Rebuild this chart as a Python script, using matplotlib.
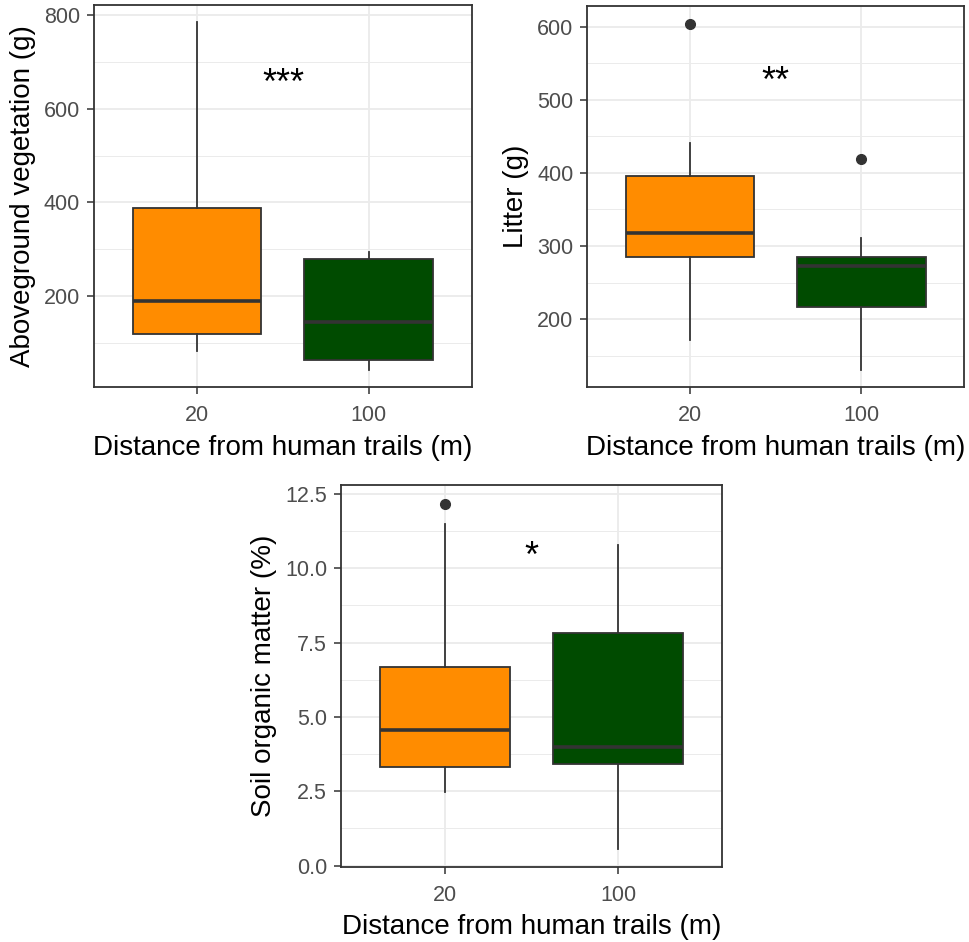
import numpy as np
import matplotlib.pyplot as plt
from matplotlib.ticker import MultipleLocator

plt.rcParams['font.family'] = ['Liberation Sans', 'DejaVu Sans']

groups = ['20', '100']
colors = ['#FF8C00', '#004B00']
xlabel = 'Distance from human trails (m)'

# box stats per group: whislo, q1, med, q3, whishi, outliers
veg_stats = [[83, 118, 189, 387, 785, []],
             [42, 63, 144, 278, 295, []]]
litter_stats = [[172, 285, 318, 396, 441, [604]],
                [131, 216, 273, 285, 311, [419]]]
som_stats = [[2.48, 3.32, 4.56, 6.68, 11.49, [12.17]],
             [0.56, 3.43, 3.98, 7.83, 10.79, []]]

panels = [
    dict(stats=veg_stats, ylabel='Aboveground vegetation (g)', sig='***', sig_y=677,
         major=200, minor=100, ylim=(5, 822), pos=[0.097, 0.589, 0.390, 0.4057]),
    dict(stats=litter_stats, ylabel='Litter (g)', sig='**', sig_y=539,
         major=100, minor=50, ylim=(107, 628), pos=[0.606, 0.589, 0.389, 0.4046]),
    dict(stats=som_stats, ylabel='Soil organic matter (%)', sig='*', sig_y=10.75,
         major=2.5, minor=1.25, ylim=(-0.05, 12.8), pos=[0.352, 0.0796, 0.393, 0.4054]),
]

fig = plt.figure(figsize=(9.69, 9.42), dpi=100)

for p in panels:
    ax = fig.add_axes(p['pos'])
    bstats = []
    for s in p['stats']:
        bstats.append(dict(whislo=s[0], q1=s[1], med=s[2], q3=s[3], whishi=s[4], fliers=s[5]))
    res = ax.bxp(bstats, positions=[1, 2], widths=0.75, patch_artist=True, showcaps=False,
                 boxprops=dict(edgecolor='#333333', linewidth=1.3),
                 medianprops=dict(color='#333333', linewidth=2.6, solid_capstyle='butt'),
                 whiskerprops=dict(color='#333333', linewidth=1.3),
                 flierprops=dict(marker='o', markerfacecolor='#333333', markeredgecolor='#333333',
                                 markersize=7))
    for patch, c in zip(res['boxes'], colors):
        patch.set_facecolor(c)
    for m in res['medians']:
        m.set_zorder(4)

    ax.set_xlim(0.4, 2.6)
    ax.set_ylim(*p['ylim'])
    ax.set_xticks([1, 2])
    ax.set_xticklabels(groups)
    ax.yaxis.set_major_locator(MultipleLocator(p['major']))
    ax.yaxis.set_minor_locator(MultipleLocator(p['minor']))
    ax.grid(True, which='major', color='#EBEBEB', linewidth=1.3, zorder=0)
    ax.grid(True, which='minor', axis='y', color='#EBEBEB', linewidth=0.7, zorder=0)
    ax.set_axisbelow(True)
    ax.tick_params(axis='both', which='major', direction='out', length=5, width=1.1,
                   color='#333333', labelcolor='#4D4D4D', labelsize=15.5, pad=5)
    ax.tick_params(axis='x', which='major', pad=8)
    ax.tick_params(axis='y', which='minor', length=0)
    for sp in ax.spines.values():
        sp.set_color('#333333')
        sp.set_linewidth(1.3)
    ax.set_xlabel(xlabel, fontsize=20, color='black', labelpad=6)
    ax.set_ylabel(p['ylabel'], fontsize=20, color='black', labelpad=6)
    ax.annotate(p['sig'], xy=(1.5, p['sig_y']), xytext=(0, -15), textcoords='offset points',
                fontsize=26, ha='center', va='baseline', color='black')

fig.savefig('out.png', dpi=100)
